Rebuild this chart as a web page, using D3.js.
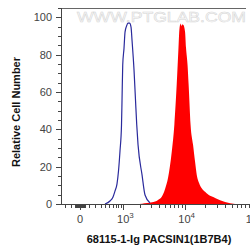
<!DOCTYPE html>
<html><head><meta charset="utf-8">
<script src="https://cdn.jsdelivr.net/npm/d3@7"></script>
<style>body{margin:0;background:#fff}svg{display:block}text{font-family:"Liberation Sans",Arial,sans-serif}</style>
</head><body>
<svg id="c" width="250" height="248"></svg>
<script>
// Data (fluorescence intensity vs. relative cell number, %)
const isoX = [398,527,616,680,748,803,860,920,941,971,1028,1074,1145,1220,1300,1383,1440,1563,1659,1741,1832,2141,2401,2899];
const isoY = [0,1.6,3.8,7.0,10.8,17.8,28.5,42.5,55.4,74.3,83.5,92.1,95.3,96.9,96.9,94.8,87.8,71.6,55.4,42.5,31.8,15.6,4.8,0.5];
const stainX = [1693,2141,3123,3894,4452,5013,5580,6363,6975,7590,8031,8316,8673,8900,9138,9564,10149,10506,11070,11460,12282,13386,14352,15216,16470,20241,28500,40110,56370];
const stainY = [0,0.2,0.9,2.2,3.9,8.1,14.0,28.0,42.5,64.6,82.4,93.2,96.7,95.2,96.1,95.9,92.1,83.5,74.3,64.6,42.5,31.8,22.6,15.6,11.3,6.5,3.2,1.1,0];
const yTicks = [0,20,40,60,80,100];
const yMinor = [5,10,15,25,30,35,45,50,55,65,70,75,85,90,95,105];
const xMajor = [0,1000,10000,100000];
const xMajorLabels = [["0",""],["10","3"],["10","4"],["10","5"]];
const xMinor = [-200,-100,-50,-40,-30,-20,-10,10,20,30,40,50,100,200,300,400,500,600,700,800,900,2000,3000,4000,5000,6000,7000,8000,9000,20000,30000,40000,50000,60000,70000,80000,90000];
const xTitle = "68115-1-Ig PACSIN1(1B7B4)";
const yTitle = "Relative Cell Number";
const watermark = "WWW.PTGLAB.COM";

const svg = d3.select("#c");
const L = 61, R = 252, T = 8, B = 204;
const x = d3.scaleSymlog().constant(300).domain([-270, 100000]).range([L, R]);
const y = d3.scaleLinear().domain([0, 105]).range([B, T]);
const axisCol = "#444";

svg.append("text").attr("x", 77).attr("y", 22).attr("textLength", 169).attr("lengthAdjust","spacingAndGlyphs")
  .attr("font-size", 14).attr("fill", "#fafafa").attr("stroke", "#d6d6d6").attr("stroke-width", 0.5)
  .text(watermark);

const area = d3.area().x((d,i)=>x(stainX[i])).y0(y(0)).y1((d,i)=>y(stainY[i])).curve(d3.curveMonotoneX);
svg.append("path").datum(stainX).attr("d", area).attr("fill", "#ff0000");

const line = d3.line().x((d,i)=>x(isoX[i])).y((d,i)=>y(isoY[i])).curve(d3.curveMonotoneX);
svg.append("path").datum(isoX).attr("d", line).attr("fill","none").attr("stroke","#2a2a9c").attr("stroke-width",1.2);

// frame
svg.append("line").attr("x1",L).attr("x2",246).attr("y1",T+0.5).attr("y2",T+0.5).attr("stroke","#666").attr("stroke-width",1);
svg.append("line").attr("x1",L+0.5).attr("x2",L+0.5).attr("y1",T).attr("y2",B).attr("stroke",axisCol);
svg.append("line").attr("x1",L).attr("x2",250).attr("y1",B+0.5).attr("y2",B+0.5).attr("stroke",axisCol);

// y ticks
yTicks.forEach(v=>{
  svg.append("line").attr("x1",56).attr("x2",L).attr("y1",Math.round(y(v))+0.5).attr("y2",Math.round(y(v))+0.5).attr("stroke",axisCol);
  svg.append("text").attr("x",52).attr("y",y(v)+4).attr("text-anchor","end").attr("font-size",11).attr("fill","#444").text(v);
});
yMinor.forEach(v=>{
  svg.append("line").attr("x1",58).attr("x2",L).attr("y1",Math.round(y(v))+0.5).attr("y2",Math.round(y(v))+0.5).attr("stroke",axisCol);
});
// x ticks
xMinor.forEach(v=>{
  const px = Math.round(x(v))+0.5;
  svg.append("line").attr("x1",px).attr("x2",px).attr("y1",B).attr("y2",B+4).attr("stroke",axisCol);
});
xMajor.forEach((v,i)=>{
  const px = Math.round(x(v))+0.5;
  svg.append("line").attr("x1",px).attr("x2",px).attr("y1",B).attr("y2",B+6).attr("stroke",axisCol);
  const t = svg.append("text").attr("x",x(v) + (xMajorLabels[i][1] ? 2 : 0)).attr("y",223).attr("text-anchor","middle").attr("font-size",11).attr("fill","#444");
  t.append("tspan").text(xMajorLabels[i][0]);
  if (xMajorLabels[i][1]) t.append("tspan").attr("dy",-5).attr("font-size",8).text(xMajorLabels[i][1]);
});

svg.append("text").attr("x",159).attr("y",243).attr("text-anchor","middle").attr("font-size",11).attr("font-weight","bold").attr("fill","#111").text(xTitle);
svg.append("text").attr("transform","translate(20,112) rotate(-90)").attr("text-anchor","middle").attr("font-size",11).attr("font-weight","bold").attr("fill","#111").text(yTitle);
</script>
</body></html>
